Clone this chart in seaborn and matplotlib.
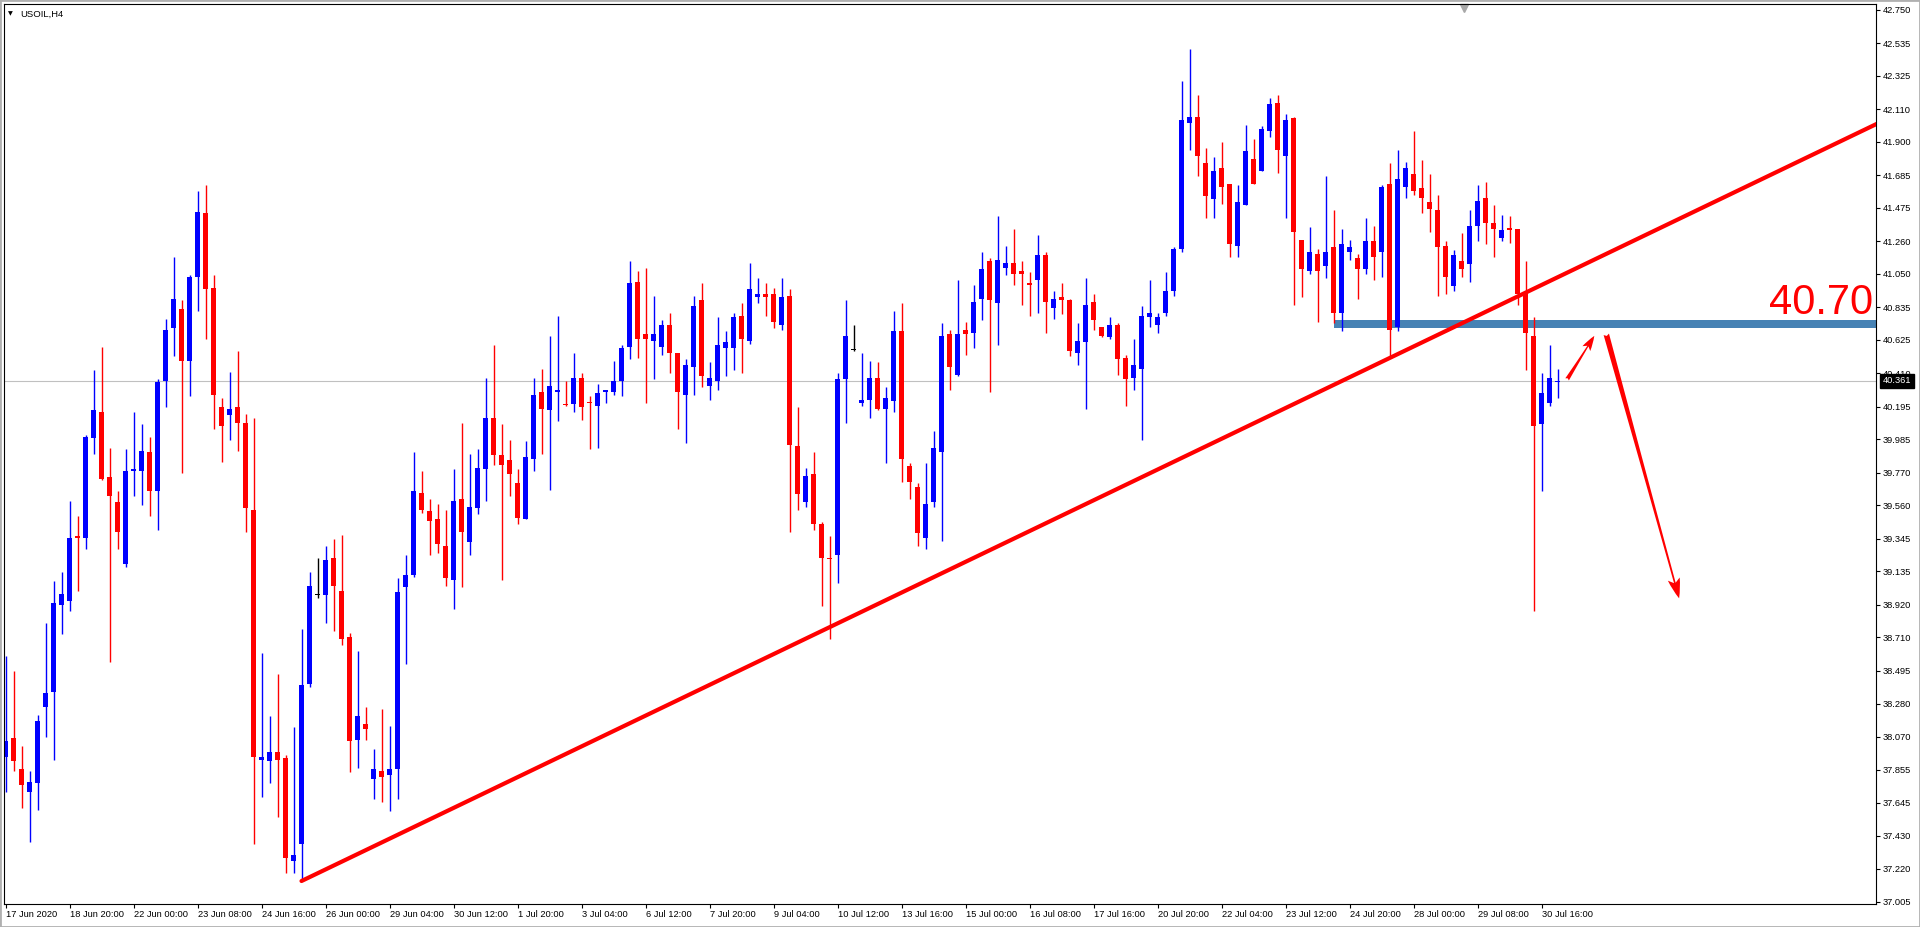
import numpy as np
import pandas as pd
import seaborn as sns
import matplotlib.pyplot as plt
import matplotlib.transforms as mtransforms
from matplotlib.patches import Rectangle

# USOIL H4 candles
opens = [37.94, 38.06, 37.86, 37.71, 37.77, 38.26, 38.36, 38.92, 38.94, 39.36,
         39.35, 39.99, 40.16, 39.74, 39.58, 39.18, 39.78, 39.78, 39.90, 39.65,
         40.36, 40.70, 40.82, 40.49, 41.03, 41.44, 40.96, 40.19, 40.14, 40.19,
         40.09, 39.53, 37.92, 37.91, 37.97, 37.93, 37.27, 37.38, 38.41, 38.98,
         38.98, 39.22, 39.01, 38.71, 38.05, 38.15, 37.80, 37.85, 37.82, 37.86,
         39.03, 39.11, 39.64, 39.52, 39.47, 39.30, 39.08, 39.60, 39.32, 39.54,
         39.79, 40.12, 39.88, 39.85, 39.70, 39.47, 39.86, 40.29, 40.17, 40.29,
         40.21, 40.21, 40.38, 40.22, 40.20, 40.29, 40.29, 40.36, 40.58, 41.00,
         40.66, 40.62, 40.58, 40.72, 40.54, 40.27, 40.45, 40.88, 40.33, 40.36,
         40.57, 40.57, 40.78, 40.62, 40.90, 40.92, 40.92, 40.72, 40.91, 39.94,
         39.58, 39.76, 39.44, 39.22, 39.24, 40.37, 40.56, 40.22, 40.24, 40.38,
         40.18, 40.23, 40.68, 39.81, 39.68, 39.35, 39.58, 39.90, 40.66, 40.40,
         40.69, 40.67, 40.89, 41.13, 40.86, 41.09, 41.12, 41.07, 40.99, 41.01,
         41.17, 40.83, 40.90, 40.88, 40.54, 40.61, 40.87, 40.71, 40.64, 40.72,
         40.51, 40.38, 40.44, 40.77, 40.72, 40.80, 40.94, 41.21, 42.02, 42.06,
         41.76, 41.53, 41.73, 41.63, 41.23, 41.49, 41.79, 41.71, 41.97, 42.15,
         41.81, 42.05, 41.27, 41.07, 41.18, 41.10, 41.22, 40.80, 41.19, 41.15,
         41.08, 41.26, 41.19, 41.63, 40.71, 41.61, 41.69, 41.60, 41.51, 41.46,
         41.23, 40.97, 41.13, 41.11, 41.36, 41.54, 41.38, 41.28, 41.34, 41.34,
         40.93, 40.65, 40.08, 40.22, 40.355]
highs = [38.59, 38.49, 38.01, 37.85, 38.21, 38.80, 39.07, 39.13, 39.59, 39.49,
         40.01, 40.43, 40.58, 39.93, 39.65, 39.92, 40.16, 40.08, 40.00, 40.37,
         40.76, 41.16, 40.88, 41.04, 41.58, 41.62, 41.04, 40.25, 40.42, 40.55,
         40.15, 40.12, 38.61, 38.20, 38.47, 37.95, 38.13, 38.76, 39.13, 39.22,
         39.30, 39.34, 39.37, 38.74, 38.62, 38.26, 37.99, 38.25, 38.14, 39.09,
         39.24, 39.90, 39.78, 39.60, 39.57, 39.53, 39.79, 40.09, 39.89, 39.92,
         40.38, 40.59, 40.08, 39.98, 39.79, 39.97, 40.38, 40.44, 40.65, 40.78,
         40.36, 40.54, 40.41, 40.26, 40.34, 40.30, 40.49, 40.59, 41.13, 41.07,
         41.09, 40.91, 40.75, 40.80, 40.54, 40.50, 40.91, 40.99, 40.48, 40.77,
         40.68, 40.80, 40.86, 41.12, 41.02, 40.99, 40.96, 41.02, 40.95, 40.19,
         39.80, 39.90, 39.45, 39.36, 40.41, 40.88, 40.72, 40.54, 40.49, 40.48,
         40.32, 40.81, 40.86, 39.83, 39.70, 39.83, 40.04, 40.73, 40.69, 41.01,
         40.74, 40.98, 41.19, 41.15, 41.42, 41.23, 41.34, 41.13, 41.06, 41.30,
         41.19, 40.94, 40.99, 40.89, 40.73, 41.02, 40.92, 40.71, 40.77, 40.73,
         40.53, 40.63, 40.84, 41.01, 40.80, 41.06, 41.22, 42.29, 42.50, 42.20,
         41.86, 41.80, 41.90, 41.63, 41.62, 42.01, 41.92, 42.00, 42.18, 42.20,
         42.08, 42.06, 41.27, 41.35, 41.21, 41.68, 41.46, 41.34, 41.27, 41.18,
         41.41, 41.36, 41.62, 41.76, 41.85, 41.77, 41.97, 41.78, 41.69, 41.56,
         41.26, 41.20, 41.31, 41.46, 41.62, 41.64, 41.49, 41.43, 41.42, 41.34,
         41.13, 40.77, 40.41, 40.59, 40.44]
lows = [37.71, 37.85, 37.61, 37.39, 37.60, 38.07, 37.92, 38.73, 38.88, 39.01,
        39.28, 39.89, 39.72, 38.55, 39.28, 39.16, 39.62, 39.56, 39.49, 39.40,
        40.19, 40.52, 39.77, 40.26, 40.81, 40.63, 40.05, 39.84, 39.98, 39.91,
        39.39, 37.38, 37.68, 37.77, 37.55, 37.19, 37.19, 37.14, 38.39, 38.96,
        38.80, 38.75, 38.66, 37.84, 37.87, 38.05, 37.67, 37.65, 37.59, 37.67,
        38.54, 39.10, 39.51, 39.24, 39.25, 39.04, 38.89, 39.03, 39.24, 39.50,
        39.59, 39.82, 39.08, 39.62, 39.44, 39.47, 39.78, 39.89, 39.66, 40.10,
        40.20, 40.16, 40.11, 39.92, 39.93, 40.22, 40.27, 40.26, 40.50, 40.51,
        40.22, 40.37, 40.53, 40.41, 40.05, 39.96, 40.27, 40.32, 40.24, 40.30,
        40.39, 40.43, 40.41, 40.60, 40.86, 40.78, 40.70, 40.69, 39.39, 39.53,
        39.55, 39.40, 38.91, 38.70, 39.06, 40.09, 40.55, 40.20, 40.12, 40.175,
        39.83, 40.16, 39.71, 39.60, 39.30, 39.28, 39.55, 39.33, 40.30, 40.39,
        40.53, 40.57, 40.75, 40.29, 40.59, 41.04, 40.98, 40.85, 40.78, 40.80,
        40.67, 40.76, 40.79, 40.52, 40.46, 40.18, 40.69, 40.64, 40.63, 40.40,
        40.20, 40.30, 39.98, 40.71, 40.67, 40.78, 40.91, 41.19, 41.85, 41.68,
        41.41, 41.41, 41.50, 41.16, 41.16, 41.49, 41.63, 41.71, 41.93, 41.70,
        41.41, 40.85, 40.90, 41.05, 40.74, 41.02, 40.73, 40.68, 41.14, 40.89,
        41.05, 41.01, 41.03, 40.52, 40.68, 41.54, 41.56, 41.44, 41.32, 40.91,
        40.92, 40.94, 41.03, 41.00, 41.26, 41.24, 41.16, 41.26, 41.25, 40.85,
        40.43, 38.88, 39.65, 40.20, 40.25]
closes = [38.04, 37.91, 37.76, 37.78, 38.17, 38.35, 38.93, 38.99, 39.35, 39.35,
          40.00, 40.17, 39.73, 39.62, 39.39, 39.78, 39.79, 39.91, 39.65, 40.35,
          40.69, 40.89, 40.49, 41.03, 41.45, 40.95, 40.27, 40.07, 40.18, 40.09,
          39.54, 37.94, 37.94, 37.97, 37.92, 37.29, 37.31, 38.40, 39.04, 38.98,
          39.21, 39.04, 38.70, 38.04, 38.20, 38.12, 37.86, 37.81, 37.86, 39.00,
          39.11, 39.65, 39.53, 39.46, 39.31, 39.09, 39.59, 39.39, 39.55, 39.80,
          40.12, 39.88, 39.82, 39.76, 39.48, 39.87, 40.27, 40.18, 40.33, 40.30,
          40.205, 40.38, 40.19, 40.215, 40.28, 40.30, 40.36, 40.57, 40.99, 40.63,
          40.63, 40.66, 40.72, 40.54, 40.29, 40.46, 40.84, 40.39, 40.38, 40.59,
          40.61, 40.77, 40.63, 40.95, 40.92, 40.90, 40.74, 40.90, 39.95, 39.63,
          39.75, 39.44, 39.22, 39.215, 40.37, 40.65, 40.56, 40.24, 40.38, 40.18,
          40.25, 40.68, 39.86, 39.71, 39.38, 39.57, 39.93, 40.65, 40.45, 40.66,
          40.66, 40.87, 41.08, 40.88, 41.14, 41.12, 41.05, 41.05, 40.98, 41.17,
          40.87, 40.89, 40.88, 40.55, 40.62, 40.85, 40.75, 40.65, 40.72, 40.50,
          40.37, 40.46, 40.78, 40.80, 40.77, 40.94, 41.21, 42.04, 42.06, 41.81,
          41.55, 41.71, 41.61, 41.24, 41.51, 41.84, 41.63, 41.98, 42.14, 41.85,
          42.04, 41.32, 41.08, 41.19, 41.07, 41.19, 40.80, 41.24, 41.22, 41.08,
          41.26, 41.16, 41.61, 40.69, 41.66, 41.73, 41.58, 41.54, 41.47, 41.22,
          41.03, 41.17, 41.08, 41.36, 41.52, 41.38, 41.34, 41.33, 41.335, 40.92,
          40.67, 40.07, 40.28, 40.38, 40.361]

time_labels = ["17 Jun 2020", "18 Jun 20:00", "22 Jun 00:00", "23 Jun 08:00",
               "24 Jun 16:00", "26 Jun 00:00", "29 Jun 04:00", "30 Jun 12:00",
               "1 Jul 20:00", "3 Jul 04:00", "6 Jul 12:00", "7 Jul 20:00",
               "9 Jul 04:00", "10 Jul 12:00", "13 Jul 16:00", "15 Jul 00:00",
               "16 Jul 08:00", "17 Jul 16:00", "20 Jul 20:00", "22 Jul 04:00",
               "23 Jul 12:00", "24 Jul 20:00", "28 Jul 00:00", "29 Jul 08:00",
               "30 Jul 16:00"]
price_ticks = [42.750, 42.535, 42.325, 42.110, 41.900, 41.685, 41.475, 41.260,
               41.050, 40.835, 40.625, 40.410, 40.195, 39.985, 39.770, 39.560,
               39.345, 39.135, 38.920, 38.710, 38.495, 38.280, 38.070, 37.855,
               37.645, 37.430, 37.220, 37.005]
last_price = 40.361

# drawn objects
zone_start = 166
zone_low, zone_high = 40.70, 40.75
zone_label = "40.70"
trend_x = [37, 233.9]
trend_y = [37.14, 42.015]
arrow_up = [(195.2, 40.37), (198.6, 40.65)]
arrow_down = [(200.1, 40.66), (209.2, 38.96)]

sns.set_theme(style="white")
plt.rcParams['font.family'] = ['Liberation Sans', 'DejaVu Sans']

df = pd.DataFrame({'open': opens, 'high': highs, 'low': lows, 'close': closes})
df['bar'] = np.arange(len(df))
df['colour'] = np.where(df['close'] > df['open'], '#0000ff',
                        np.where(df['close'] < df['open'], '#ff0000', '#000000'))
df['body_lo'] = df[['open', 'close']].min(axis=1)
df['body_h'] = (df['close'] - df['open']).abs().clip(lower=0.0065)

W, H = 1920, 927
fig = plt.figure(figsize=(W / 100, H / 100), dpi=100)
ax = fig.add_axes([4 / W, 23 / H, 1872 / W, 900 / H])

ax.axhline(last_price, color='#c0c0c0', lw=0.8, zorder=0)

ax.add_patch(Rectangle((zone_start, zone_low), 100, zone_high - zone_low,
                       facecolor='#4682b4', edgecolor='none', zorder=1))

ax.vlines(df['bar'], df['low'], df['high'], colors=df['colour'], lw=1, zorder=2)
ax.bar(df['bar'], df['body_h'], bottom=df['body_lo'], width=0.625,
       color=df['colour'], linewidth=0, zorder=2)

sns.lineplot(x=trend_x, y=trend_y, ax=ax, color='#ff0000', lw=3, zorder=3)

for (x0, y0), (x1, y1), ms in [(arrow_up[0], arrow_up[1], 12),
                               (arrow_down[0], arrow_down[1], 16)]:
    ax.annotate('', xy=(x1, y1), xytext=(x0, y0),
                arrowprops=dict(arrowstyle='fancy,head_length=0.9,head_width=0.55,tail_width=0.25',
                                color='#ff0000', lw=0, shrinkA=0, shrinkB=0,
                                mutation_scale=ms), zorder=4)

ax.text(233.4, 40.79, zone_label, color='#ff0000', fontsize=30,
        ha='right', va='baseline', zorder=5)

ax.set_xlim((4 - 5.5) / 8, (1876 - 5.5) / 8)
ax.set_ylim(36.992, 42.787)

ax.set_xticks(df['bar'].iloc[::8])
ax.set_xticklabels(time_labels, ha='left')
ax.yaxis.tick_right()
ax.set_yticks(price_ticks)
ax.set_yticklabels([f"{v:.3f}" for v in price_ticks])
ax.tick_params(axis='both', direction='out', length=3, width=0.8, color='black',
               labelsize=6.7, labelcolor='black')
ax.tick_params(axis='x', pad=1, bottom=True)
ax.tick_params(axis='y', pad=1.8, right=True, left=False)
ax.set_xlabel('')
ax.set_ylabel('')
for s in ax.spines.values():
    s.set_color('black')
    s.set_linewidth(0.8)
    s.set_visible(True)

# current price box
blend = mtransforms.blended_transform_factory(ax.transAxes, ax.transData)
ax.text(1.0036, last_price, f"{last_price:.3f}", transform=blend, color='white',
        fontsize=6.7, ha='left', va='center', clip_on=False, zorder=6,
        bbox=dict(boxstyle='square,pad=0.28', facecolor='black', edgecolor='black'))

# chart shift marker
ax.plot([0.78], [0.996], marker='v', color='#a8a8a8', markersize=6,
        transform=ax.transAxes, clip_on=False)

fig.text(20.5 / W, 1 - 14 / H, "USOIL,H4", fontsize=6.8, va='center', color='black')
fig.text(8 / W, 1 - 13.5 / H, "\u25bc", fontsize=4.5, va='center', color='black',
         family=['DejaVu Sans'])
fig.add_artist(Rectangle((0, 0), 1, 1, transform=fig.transFigure, fill=False,
                         edgecolor='#b0b0b0', lw=2))

fig.savefig('out.png', dpi=100)
